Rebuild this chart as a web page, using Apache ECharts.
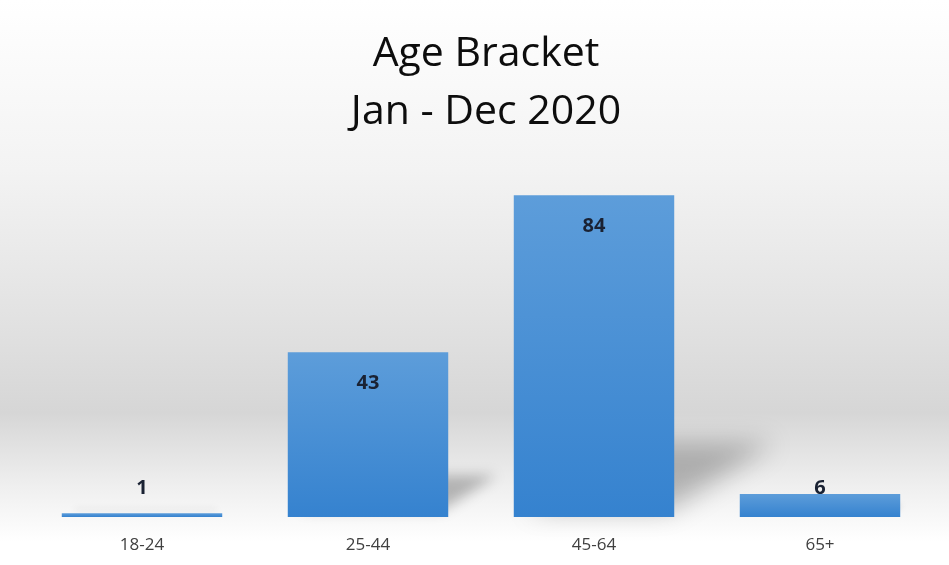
<!DOCTYPE html>
<html>
<head>
<meta charset="utf-8">
<script src="https://cdn.jsdelivr.net/npm/echarts@6/dist/echarts.min.js"></script>
<style>
html,body{margin:0;padding:0;background:#fff;}
#chart{width:949px;height:565px;}
</style>
</head>
<body>
<div id="chart"></div>
<script>
var categories = ['18-24', '25-44', '45-64', '65+'];
var values = [1, 43, 84, 6];
var titleLines = ['Age Bracket', 'Jan - Dec 2020'];

var chart = echarts.init(document.getElementById('chart'));

var barData = values.map(function (v) {
  if (v < 10) {
    return { value: v, label: { position: 'insideBottom', distance: 19 } };
  }
  return { value: v };
});

var shadowData = values.map(function (v, i) { return [i, v]; });

var OFF = 3000;

var option = {
  backgroundColor: {
    type: 'linear', x: 0, y: 0, x2: 0, y2: 1,
    colorStops: [
      { offset: 0, color: '#ffffff' },
      { offset: 0.3, color: '#f3f3f3' },
      { offset: 0.55, color: '#e3e3e3' },
      { offset: 0.73, color: '#d6d6d6' },
      { offset: 0.86, color: '#efefef' },
      { offset: 0.96, color: '#ffffff' },
      { offset: 1, color: '#ffffff' }
    ]
  },
  animation: false,
  title: {
    text: titleLines.join('\n'),
    left: 481,
    textAlign: 'center',
    top: 20,
    textStyle: {
      fontFamily: 'Open Sans',
      fontSize: 41,
      fontWeight: 'normal',
      color: '#0d0d0d',
      lineHeight: 58
    }
  },
  grid: { left: 29, right: 16, top: 134, bottom: 48 },
  xAxis: {
    type: 'category',
    data: categories,
    axisLine: { show: false },
    axisTick: { show: false },
    axisLabel: {
      fontFamily: 'Open Sans',
      fontSize: 17,
      color: '#404040',
      margin: 20
    }
  },
  yAxis: {
    type: 'value',
    min: 0,
    max: 100,
    show: false,
    splitLine: { show: false }
  },
  series: [
    {
      type: 'custom',
      z: 1,
      silent: true,
      clip: false,
      data: shadowData,
      encode: { x: 0, y: 1 },
      renderItem: function (params, api) {
        var idx = api.value(0);
        var val = api.value(1);
        var base = api.coord([idx, 0]);
        var top = api.coord([idx, val]);
        var band = api.size([1, 0])[0];
        var w = band * 0.71;
        var h = base[1] - top[1];
        var xl = base[0] - w / 2 + 12 - OFF;
        var xr = base[0] + w / 2 - 6 - OFF;
        var dx = h * 0.33;
        var sh = h * 0.21;
        var y0 = base[1] - 7;
        return {
          type: 'polygon',
          shape: {
            points: [[xl, y0], [xr, y0], [xr + dx, y0 - sh], [xl + dx, y0 - sh]]
          },
          style: {
            fill: '#000',
            shadowBlur: Math.max(6, h * 0.08),
            shadowOffsetX: OFF,
            shadowOffsetY: 0,
            shadowColor: 'rgba(0,0,0,0.26)'
          }
        };
      }
    },
    {
      type: 'bar',
      z: 2,
      data: barData,
      barWidth: '71%',
      itemStyle: {
        color: {
          type: 'linear', x: 0, y: 0, x2: 0, y2: 1,
          colorStops: [
            { offset: 0, color: '#5d9dda' },
            { offset: 1, color: '#3582cf' }
          ]
        }
      },
      label: {
        show: true,
        position: 'insideTop',
        distance: 21,
        fontFamily: 'Open Sans',
        fontWeight: 'bold',
        fontSize: 20,
        color: '#1a2233'
      }
    }
  ]
};

chart.setOption(option);
</script>
</body>
</html>
